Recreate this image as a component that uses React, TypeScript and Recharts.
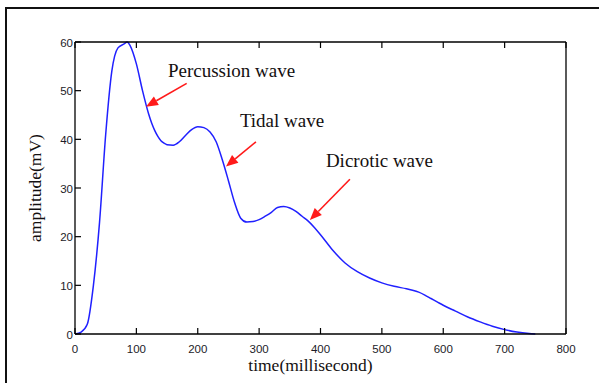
import { LineChart, Line, XAxis, YAxis, ReferenceLine, ReferenceDot } from "recharts";

const SERIF = "'Liberation Serif', 'Times New Roman', serif";
const SANS = "'Liberation Sans', Arial, sans-serif";

// pulse wave
const timeMs = [
  0, 10, 20, 30, 40, 50, 60, 70, 80, 85, 90, 100, 110, 120, 125, 130, 135, 140, 145, 150, 160, 170, 180,
  190, 200, 210, 220, 230, 240, 250, 260, 270, 280, 290, 300, 310, 320, 330, 340, 350, 360,
  370, 380, 390, 400, 420, 440, 460, 480, 500, 520, 540, 550, 560, 570, 580, 590, 600, 620,
  640, 660, 680, 700, 720, 740, 750,
];
const amplitude = [
  0, 0.4, 2, 10, 23, 41, 54, 58.8, 59.6, 60, 59.2, 55.5, 50, 45.2, 43.3, 41.8, 40.6, 39.7, 39.2, 38.9, 38.8, 39.5, 40.8,
  42, 42.6, 42.4, 41.5, 39.5, 35.8, 31.5, 27, 23.8, 23, 23.1, 23.5, 24.2, 25, 26, 26.2, 25.9, 25.2,
  24.2, 23.2, 21.9, 20.4, 17.2, 14.6, 12.8, 11.5, 10.5, 9.8, 9.3, 9.0, 8.6, 8.0, 7.3, 6.6, 5.9, 4.7,
  3.5, 2.5, 1.6, 0.9, 0.4, 0.1, 0,
];

const xTicks = [0, 100, 200, 300, 400, 500, 600, 700, 800];
const yTicks = [0, 10, 20, 30, 40, 50, 60];

const noteLabels = ["Percussion wave", "Tidal wave", "Dicrotic wave"];
const noteTextAt = [
  [151.5, 52.9],
  [268.7, 42.6],
  [408.8, 34.4],
];
const arrowTail = [
  [182, 51.5],
  [294.8, 39.5],
  [447.9, 31.8],
];
const arrowTip = [
  [115.6, 46.7],
  [246, 34.4],
  [382.7, 23.4],
];

const data = timeMs.map((t, i) => ({ t, v: amplitude[i] }));

const BottomTick = ({ x, y, payload }: any) => (
  <g>
    <line x1={x} y1={y} x2={x} y2={y - 6} stroke="#000" strokeWidth={1.2} />
    <text x={x} y={y + 19} textAnchor="middle" fontFamily={SANS} fontSize={11.5} fill="#1c1c28">
      {payload.value}
    </text>
  </g>
);

const LeftTick = ({ x, y, payload }: any) => (
  <g>
    <line x1={x} y1={y} x2={x + 6} y2={y} stroke="#000" strokeWidth={1.2} />
    <text x={x - 2} y={y + 4.5} textAnchor="end" fontFamily={SANS} fontSize={11.5} fill="#1c1c28">
      {payload.value}
    </text>
  </g>
);

const TopTick = ({ x, y }: any) => <line x1={x} y1={y} x2={x} y2={y + 6} stroke="#000" strokeWidth={1.2} />;
const RightTick = ({ x, y }: any) => <line x1={x} y1={y} x2={x - 6} y2={y} stroke="#000" strokeWidth={1.2} />;

const Arrow = (props: any) => {
  const { x1, y1, x2, y2 } = props;
  const ang = Math.atan2(y2 - y1, x2 - x1);
  const len = 12;
  const half = 5;
  const bx = x2 - len * Math.cos(ang);
  const by = y2 - len * Math.sin(ang);
  const px = -Math.sin(ang) * half;
  const py = Math.cos(ang) * half;
  return (
    <g>
      <line x1={x1} y1={y1} x2={bx} y2={by} stroke="#ff1a1a" strokeWidth={1.6} />
      <polygon points={`${x2},${y2} ${bx + px},${by + py} ${bx - px},${by - py}`} fill="#ff1a1a" />
    </g>
  );
};

const noteShape = (text: string) => (props: any) => (
  <text x={props.cx} y={props.cy} fontFamily={SERIF} fontSize={19} fill="#141010">
    {text}
  </text>
);

export default function App() {
  // fixed so the body margin doesn't shift or clip anything
  return (
    <div style={{ position: "fixed", left: 0, top: 0, width: 599, height: 383, overflow: "hidden", background: "#fff" }}>
      <div style={{ position: "absolute", left: 0, top: 0 }}>
        <LineChart width={599} height={383} data={data} margin={{ top: 41, right: 32, bottom: 0, left: 0 }}>
          <XAxis
            dataKey="t"
            type="number"
            domain={[0, 800]}
            ticks={xTicks}
            height={49}
            tickSize={0}
            tickMargin={0}
            tickLine={false}
            axisLine={{ stroke: "#000", strokeWidth: 1.3 }}
            tick={<BottomTick />}
            interval={0}
            label={{
              content: ({ viewBox }: any) => (
                <text
                  x={viewBox.x + viewBox.width / 2 - 10}
                  y={viewBox.y + 37}
                  textAnchor="middle"
                  fontFamily={SERIF}
                  fontSize={17.5}
                  fill="#141010"
                >
                  time(millisecond)
                </text>
              ),
            }}
          />
          <XAxis
            xAxisId="top"
            orientation="top"
            dataKey="t"
            type="number"
            domain={[0, 800]}
            ticks={xTicks}
            height={1}
            tickSize={0}
            tickMargin={0}
            tickLine={false}
            axisLine={{ stroke: "#000", strokeWidth: 1.3 }}
            tick={<TopTick />}
            interval={0}
          />
          <YAxis
            type="number"
            domain={[0, 60]}
            ticks={yTicks}
            width={75}
            tickSize={0}
            tickMargin={0}
            tickLine={false}
            axisLine={{ stroke: "#000", strokeWidth: 1.3 }}
            tick={<LeftTick />}
            interval={0}
            label={{
              content: ({ viewBox }: any) => {
                const cx = viewBox.x + 35;
                const cy = viewBox.y + viewBox.height / 2;
                return (
                  <text
                    x={cx}
                    y={cy}
                    transform={`rotate(-90 ${cx} ${cy})`}
                    textAnchor="middle"
                    dominantBaseline="central"
                    fontFamily={SERIF}
                    fontSize={17.5}
                    fill="#141010"
                  >
                    amplitude(mV)
                  </text>
                );
              },
            }}
          />
          <YAxis
            yAxisId="right"
            orientation="right"
            type="number"
            domain={[0, 60]}
            ticks={yTicks}
            width={1}
            tickSize={0}
            tickMargin={0}
            tickLine={false}
            axisLine={{ stroke: "#000", strokeWidth: 1.3 }}
            tick={<RightTick />}
            interval={0}
          />
          <Line
            type="monotone"
            dataKey="v"
            stroke="#2020ff"
            strokeWidth={1.5}
            dot={false}
            isAnimationActive={false}
          />
          {noteLabels.map((label, i) => (
            <ReferenceLine
              key={"a" + i}
              segment={[
                { x: arrowTail[i][0], y: arrowTail[i][1] },
                { x: arrowTip[i][0], y: arrowTip[i][1] },
              ]}
              shape={<Arrow />}
            />
          ))}
          {noteLabels.map((label, i) => (
            <ReferenceDot
              key={"n" + i}
              x={noteTextAt[i][0]}
              y={noteTextAt[i][1]}
              r={0}
              shape={noteShape(label)}
            />
          ))}
        </LineChart>
      </div>
      {/* page frame: only its left and top edges fall inside the crop */}
      <div style={{ position: "absolute", left: 5, top: 7, width: 600, height: 2, background: "#111" }} />
      <div style={{ position: "absolute", left: 5, top: 7, width: 2, height: 380, background: "#111" }} />
    </div>
  );
}
